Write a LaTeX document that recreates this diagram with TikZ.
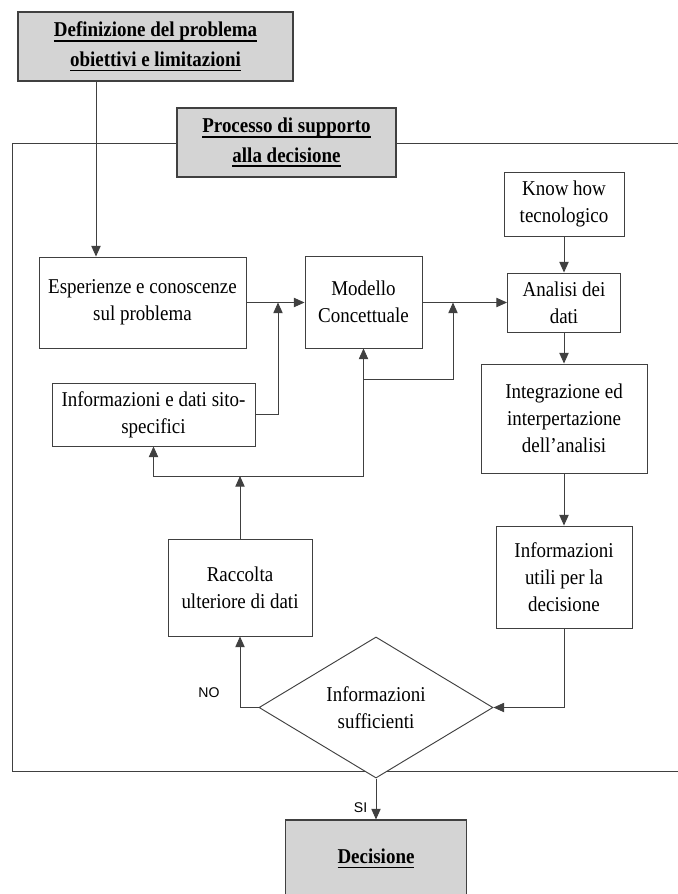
\documentclass[tikz,border=0pt]{standalone}
\usepackage{fontspec}
\setmainfont{Liberation Serif}[FakeStretch=0.9]
\newfontfamily\labelfont{Liberation Sans}
\newcommand{\thickul}[1]{\leavevmode\setbox0=\hbox{#1}\rlap{\rule[-4pt]{\wd0}{1.2pt}}\box0}
\usetikzlibrary{shapes.geometric, arrows.meta}
\tikzstyle{titlebox} = [rectangle, draw=black!75, fill=black!17, line width=0.9pt, align=center, font=\fontsize{18}{25}\selectfont\bfseries]
\tikzstyle{process} = [rectangle, draw=black!75, fill=white, line width=0.8pt, align=center]
\tikzstyle{decision} = [diamond, draw=black!75, fill=white, line width=0.8pt, align=center, inner sep=0pt]
\tikzstyle{line} = [line width=0.8pt, draw=black!75]
\tikzstyle{arrow} = [line width=0.8pt, draw=black!75, -{Triangle[length=3.2mm, width=2.8mm]}]
\tikzstyle{answer} = [font=\labelfont\fontsize{12}{14}\selectfont, inner sep=0pt]

\begin{document}
\begin{tikzpicture}[x=0.3mm, y=-0.3mm, font=\fontsize{18}{23}\selectfont]
    \useasboundingbox (0,0) rectangle (678,894);
    \clip (0,0) rectangle (678,894);
    % frame of the support process
    \draw [line] (690,143) -- (12,143) -- (12,771) -- (690,771);

    \node (defin) [titlebox, minimum width=82.5mm, minimum height=20.7mm] at (155.5,46.5) {\thickul{Definizione del problema}\\\thickul{obiettivi e limitazioni}};
    \node (proc) [titlebox, minimum width=65.7mm, minimum height=20.7mm] at (286.5,142.5) {\thickul{Processo di supporto}\\\thickul{alla decisione}};
    \node (know) [process, minimum width=36mm, minimum height=19.2mm] at (564,204) {Know how\\tecnologico};
    \node (esper) [process, minimum width=62.1mm, minimum height=27.3mm] at (142.5,302.5) {Esperienze e conoscenze\\sul problema};
    \node (modello) [process, minimum width=35.1mm, minimum height=27.6mm] at (363.5,302) {Modello\\Concettuale};
    \node (analisi) [process, minimum width=33.9mm, minimum height=17.7mm] at (564,302.5) {Analisi dei\\dati};
    \node (infosito) [process, minimum width=60.9mm, minimum height=18.9mm] at (153.5,414.5) {Informazioni e dati sito-\\specifici};
    \node (integ) [process, minimum width=49.8mm, minimum height=32.7mm] at (564,418.5) {Integrazione ed\\interpertazione\\dell'analisi};
    \node (raccolta) [process, minimum width=43.2mm, minimum height=29.1mm] at (240,587.5) {Raccolta\\ulteriore di dati};
    \node (utili) [process, minimum width=40.8mm, minimum height=30.6mm] at (564,577) {Informazioni\\utili per la\\decisione};
    \node (dec) [decision, minimum width=70.2mm, minimum height=30.9mm] at (376,707.5) {Informazioni\\sufficienti};
    \node (decisione) [titlebox, minimum width=54.3mm, minimum height=23.1mm] at (376,858.5) {\thickul{Decisione}};

    \coordinate (lane) at (96,0);
    \coordinate (j1) at (278,302.5);
    \coordinate (j2) at (453,302.5);
    \coordinate (split) at (240,476);
    \coordinate (loop) at (363.5,379);

    \draw [arrow] (defin.south -| lane) -- (esper.north -| lane);
    \draw [arrow] (know) -- (analisi);
    \draw [arrow] (esper.east) -- (esper.east -| modello.west);
    \draw [arrow] (modello.east |- j2) -- (analisi.west |- j2);
    \draw [arrow] (infosito.east) -| (j1);
    \draw [arrow] (raccolta) -- (split);
    \draw [arrow] (split) -| (infosito);
    \draw [arrow] (split) -| (modello);
    \draw [arrow] (loop) -| (j2);
    \draw [arrow] (analisi) -- (integ);
    \draw [arrow] (integ) -- (utili);
    \draw [arrow] (utili) |- (dec);
    \draw [arrow] (dec) -| node [answer, pos=0.5, anchor=east, xshift=-6mm, yshift=4.5mm] {NO} (raccolta);
    \draw [arrow] (dec) -- node [answer, pos=0.7, anchor=east, xshift=-2.5mm] {SI} (decisione);
\end{tikzpicture}
\end{document}
